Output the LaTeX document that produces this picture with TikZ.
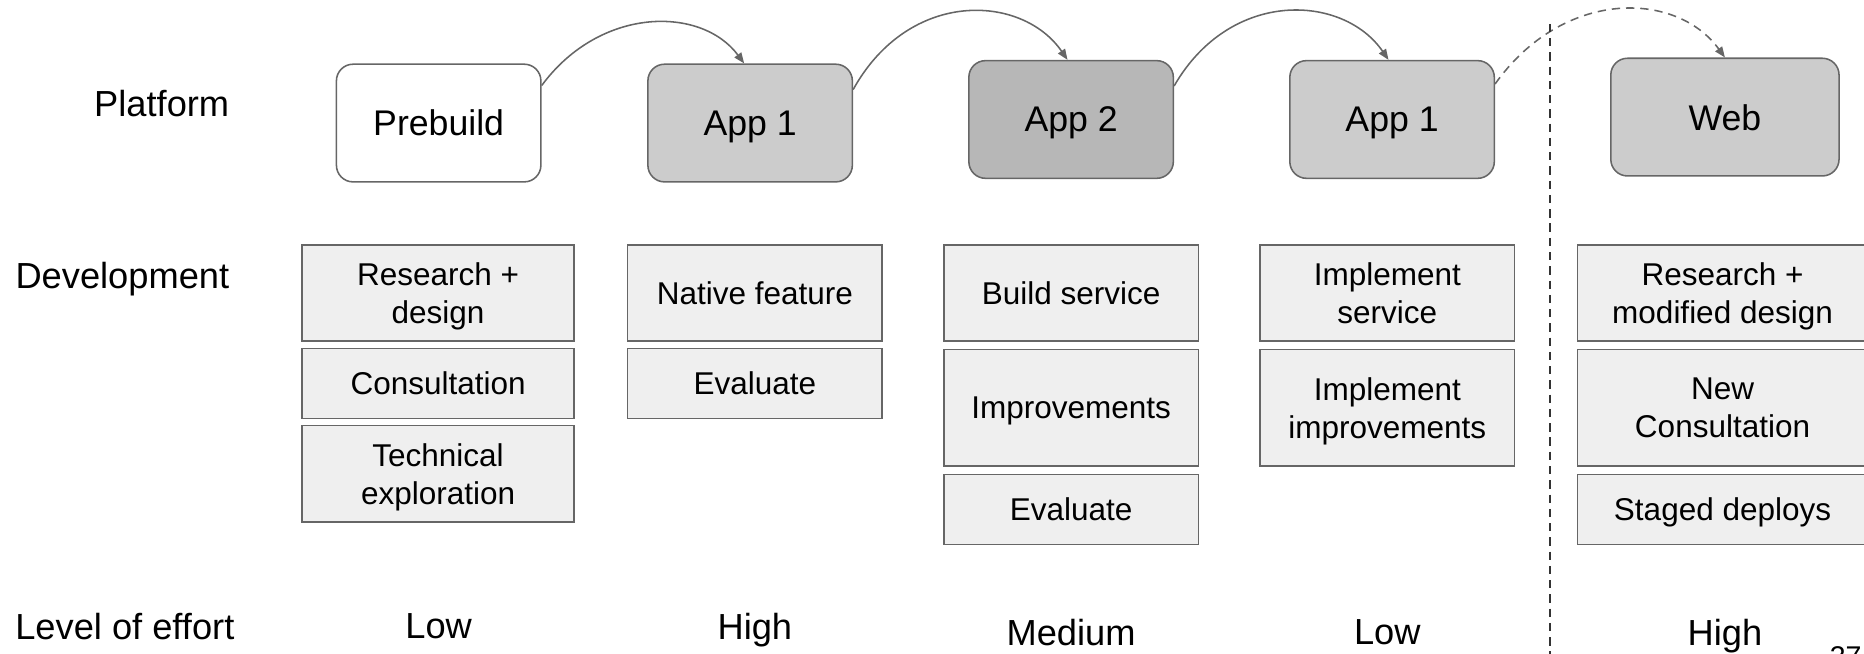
\documentclass[tikz,border=0pt]{standalone}
\usepackage{fontspec}
\setmainfont{Liberation Sans}
\usetikzlibrary{arrows.meta,calc}
\definecolor{edge}{HTML}{666666}
\definecolor{appfill}{HTML}{CCCCCC}
\definecolor{appdark}{HTML}{B7B7B7}
\definecolor{taskfill}{HTML}{EFEFEF}
\definecolor{divcol}{HTML}{333333}
\begin{document}
\begin{tikzpicture}[x=1pt,y=-1pt,
  platform/.style={draw=edge, line width=1.3pt, rounded corners=14pt,
    minimum width=172pt, minimum height=99pt, inner sep=0pt, text depth=0pt,
    font=\fontsize{30}{36}\selectfont},
  task/.style={draw=edge, line width=1.2pt, fill=taskfill, align=center,
    inner sep=0pt, text depth=0pt, font=\fontsize{26.5}{32}\selectfont},
  biglabel/.style={inner sep=0pt, text depth=0pt, font=\fontsize{30.5}{36}\selectfont},
  link/.style={draw=edge, line width=1.3pt, -{Triangle[length=9pt,width=7pt]}},
  divider/.style={draw=divcol, line width=1.3pt, dash pattern=on 7pt off 5pt},
]
\useasboundingbox (0,0) rectangle (1568,550);
\clip (0,0) rectangle (1568,550);

% row headings
\node[biglabel, anchor=east] (hplat) at (193,87) {Platform};
\node[biglabel, anchor=east] (hdev) at (193,232) {Development};
\node[biglabel] (heff) at (105,527) {Level of effort};

% platform stages
\node[platform, fill=white] (pre) at (369,103.5) {Prebuild};
\node[platform, fill=appfill] (a1) at (631,103.5) {App 1};
\node[platform, fill=appdark] (a2) at (901,100.5) {App 2};
\node[platform, fill=appfill] (b1) at (1171,100.5) {App 1};
\node[platform, fill=appfill, minimum width=192pt] (web) at (1451,98.5) {Web};

% transitions between stages
\draw[link] (pre.20) .. controls (505,5) and (590,5) .. ([xshift=-5pt]a1.north);
\draw[link] (a1.18) .. controls (765,-10) and (860,-5) .. ([xshift=-3pt]a2.north);
\draw[link] (a2.18) .. controls (1035,-10) and (1130,-5) .. ([xshift=-3pt]b1.north);
\draw[link, dash pattern=on 7pt off 5pt] (b1.19) .. controls (1315,-10) and (1410,-8) .. (web.north);

% separator before the web phase
\coordinate (divtop) at (1304,20);
\coordinate (divbot) at (1304,552);
\draw[divider] (divtop) -- (divbot);

% development tasks, column 1
\node[task, minimum width=229pt, minimum height=81pt] (t11) at (368.5,246.5) {Research +\\design};
\node[task, minimum width=229pt, minimum height=59pt] (t12) at (368.5,322.5) {Consultation};
\node[task, minimum width=229pt, minimum height=81pt] (t13) at (368.5,398.5) {Technical\\exploration};
% column 2
\node[task, minimum width=214pt, minimum height=81pt] (t21) at (635,246.5) {Native feature};
\node[task, minimum width=214pt, minimum height=59pt] (t22) at (635,322.5) {Evaluate};
% column 3
\node[task, minimum width=214pt, minimum height=81pt] (t31) at (901,246.5) {Build service};
\node[task, minimum width=214pt, minimum height=98pt] (t32) at (901,343) {Improvements};
\node[task, minimum width=214pt, minimum height=59pt] (t33) at (901,428.5) {Evaluate};
% column 4
\node[task, minimum width=214pt, minimum height=81pt] (t41) at (1167,246.5) {Implement\\service};
\node[task, minimum width=214pt, minimum height=98pt] (t42) at (1167,343) {Implement\\improvements};
% column 5
\node[task, minimum width=244pt, minimum height=81pt] (t51) at (1449,246.5) {Research +\\modified design};
\node[task, minimum width=244pt, minimum height=98pt] (t52) at (1449,343) {New\\Consultation};
\node[task, minimum width=244pt, minimum height=59pt] (t53) at (1449,428.5) {Staged deploys};

% effort levels
\node[biglabel] (e1) at (369,527) {Low};
\node[biglabel] (e2) at (635,527) {High};
\node[biglabel] (e3) at (901,532) {Medium};
\node[biglabel] (e4) at (1167,532) {Low};
\node[biglabel] (e5) at (1451,532) {High};

% page number
\node[inner sep=0pt, anchor=north west, font=\fontsize{24}{28}\selectfont] (pg) at (1539,544) {37};
\end{tikzpicture}
\end{document}
